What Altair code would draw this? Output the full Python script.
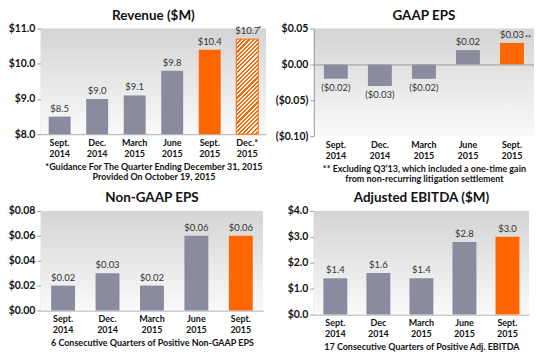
import altair as alt
import pandas as pd

# ---------------- data ----------------
rev_cats = ["Sept. 2014", "Dec. 2014", "March 2015", "June 2015", "Sept. 2015", "Dec.* 2015"]
rev_vals = [8.5, 9.0, 9.1, 9.8, 10.4, 10.7]
rev_ticks = [8, 9, 10, 11]

gaap_cats = ["Sept. 2014", "Dec. 2014", "March 2015", "June 2015", "Sept. 2015"]
gaap_vals = [-0.02, -0.03, -0.02, 0.02, 0.03]
gaap_ticks = [-0.10, -0.05, 0.0, 0.05]

ngaap_cats = ["Sept. 2014", "Dec. 2014", "March 2015", "June 2015", "Sept. 2015"]
ngaap_vals = [0.02, 0.03, 0.02, 0.06, 0.06]
ngaap_ticks = [0.0, 0.02, 0.04, 0.06, 0.08]

ebitda_cats = ["Sept. 2014", "Dec 2014", "March 2015", "June 2015", "Sept. 2015"]
ebitda_vals = [1.4, 1.6, 1.4, 2.8, 3.0]
ebitda_ticks = [0, 1, 2, 3, 4]

rev_note = ["*Guidance For The Quarter Ending December 31, 2015", "Provided On October 19, 2015"]
gaap_note = ["** Excluding Q3\u201913, which included a one-time gain", "from non-recurring litigation settlement"]
ngaap_note = "6 Consecutive Quarters of Positive Non-GAAP EPS"
ebitda_note = "17 Consecutive Quarters of Positive Adj. EBITDA"

GRAY = "#8b8ba0"
ORANGE = "#ff6600"
FONT = "Lato"
AXIS_GRAY = "#9a9a9a"

bg_grad = alt.LinearGradient(
    gradient="linear", x1=0, y1=0, x2=0, y2=1,
    stops=[alt.GradientStop(color="#d4d4d4", offset=0),
           alt.GradientStop(color="#fafafa", offset=1)],
)


def stripe_gradient(w, h, n=28):
    b_over_a = h / w
    a = (1 + b_over_a) / (1 + b_over_a ** 2)
    b = a * b_over_a
    stops = []
    for k in range(n):
        t0, t1, t2 = k / n, (k + 0.5) / n, (k + 1) / n
        stops += [alt.GradientStop(color=ORANGE, offset=t0),
                  alt.GradientStop(color=ORANGE, offset=t1),
                  alt.GradientStop(color="#ffffff", offset=t1),
                  alt.GradientStop(color="#ffffff", offset=min(t2, 1.0))]
    return alt.LinearGradient(gradient="linear", x1=0, y1=0, x2=a, y2=b, stops=stops)


def money(v, dec):
    s = f"${abs(v):.{dec}f}"
    return f"({s})" if v < 0 else s


def panel(title, cats, vals, ticks, dec, note, w, h, base=0.0,
          hatched=None, zero_line=False, sup=None, bar=24):
    df = pd.DataFrame({"cat": cats, "v": vals,
                       "lab": [money(v, dec) for v in vals]})
    lo, hi = ticks[0], ticks[-1]
    label_expr = (f"datum.value < 0 ? '($' + format(-datum.value, '.{dec}f') + ')' "
                  f": '$' + format(datum.value, '.{dec}f')")
    x = alt.X("cat:N", sort=cats,
              scale=alt.Scale(domain=cats, paddingInner=0, paddingOuter=0),
              axis=alt.Axis(title=note, labelExpr="split(datum.label, ' ')",
                            labelAngle=0, ticks=False, domain=not zero_line,
                            domainColor=AXIS_GRAY, labelFont=FONT, labelFontSize=9,
                            labelFontWeight="bold", labelColor="#111",
                            labelLineHeight=11, labelPadding=4,
                            titleFont=FONT, titleFontSize=9, titleFontWeight="bold",
                            titleColor="#111", titlePadding=4, titleLineHeight=11))
    yaxis_kw = dict(title=None, values=ticks, labelExpr=label_expr,
                    domainColor=AXIS_GRAY, tickColor=AXIS_GRAY,
                    tickSize=4, labelFont=FONT, labelFontSize=10.5,
                    labelFontWeight="bold", labelColor="#111", labelPadding=2,
                    labelOverlap=False)
    if zero_line:
        yaxis_kw.update(grid=True, gridColor=AXIS_GRAY, gridWidth=1, zindex=1,
                        gridOpacity={"condition": {"test": "datum.value === 0", "value": 1},
                                     "value": 0})
    else:
        yaxis_kw.update(grid=False)
    y = alt.Y("v:Q", scale=alt.Scale(domain=[lo, hi], zero=False, nice=False),
              axis=alt.Axis(**yaxis_kw))

    bg = alt.Chart(alt.Data(values=[{"k": 1}])).mark_rect(color=bg_grad).encode(
        x=alt.value(0), x2=alt.value("width"), y=alt.value(0), y2=alt.value("height"))

    base_chart = alt.Chart(df)
    solid = base_chart.transform_filter(
        alt.datum.cat != (hatched or "")
    ).mark_bar(size=bar).encode(
        x=x, y=y, y2=alt.datum(base),
        color=alt.condition(alt.datum.cat == "Sept. 2015", alt.value(ORANGE), alt.value(GRAY)))
    layers = [bg, solid]

    if hatched:
        hv = vals[cats.index(hatched)]
        bar_h = (hv - lo) / (hi - lo) * h
        hb = base_chart.transform_filter(alt.datum.cat == hatched).mark_bar(
            size=bar, color=stripe_gradient(bar, bar_h), stroke=ORANGE, strokeWidth=1
        ).encode(x=x, y=y, y2=alt.datum(base))
        layers.append(hb)

    pos = base_chart.transform_filter(alt.datum.v >= 0).mark_text(
        baseline="bottom", dy=-3, font=FONT, fontSize=9.5, color="#333"
    ).encode(x=x, y=y, text="lab:N")
    neg = base_chart.transform_filter(alt.datum.v < 0).mark_text(
        baseline="top", dy=4, font=FONT, fontSize=9.5, color="#333"
    ).encode(x=x, y=y, text="lab:N")
    layers += [pos, neg]

    if sup:
        sdf = pd.DataFrame({"cat": [sup[0]], "v": [vals[cats.index(sup[0])]], "t": [sup[1]]})
        st = alt.Chart(sdf).mark_text(
            baseline="top", align="left", dx=sup[2], dy=sup[3], font=FONT, fontSize=7,
            fontWeight="bold", color="#333"
        ).encode(x=x, y=y, text="t:N")
        layers.append(st)

    return alt.layer(*layers).properties(
        width=w, height=h,
        title=alt.TitleParams(title, font=FONT, fontSize=13.5, fontWeight="bold",
                              color="#111", anchor="middle", offset=1),
    )


p1 = panel("Revenue ($M)", rev_cats, rev_vals, rev_ticks, 1, rev_note, 226, 106,
           base=8, hatched="Dec.* 2015", sup=("Dec.* 2015", "*", 11, -13), bar=22)
p2 = panel("GAAP EPS", gaap_cats, gaap_vals, gaap_ticks, 2, gaap_note, 221, 108,
           base=0, zero_line=True, sup=("Sept. 2015", "**", 13, -8))
p3 = panel("Non-GAAP EPS", ngaap_cats, ngaap_vals, ngaap_ticks, 2, ngaap_note, 223, 100,
           base=0)
p4 = panel("Adjusted EBITDA ($M)", ebitda_cats, ebitda_vals, ebitda_ticks, 1, ebitda_note,
           216, 104, base=0)

chart = alt.vconcat(
    alt.hconcat(p1, p2, spacing=9),
    alt.hconcat(p3, p4, spacing=24),
    spacing=7,
).properties(padding=0, background="white").configure_view(stroke=None)

chart.save("out.html", embed_options={"renderer": "svg", "actions": False})
